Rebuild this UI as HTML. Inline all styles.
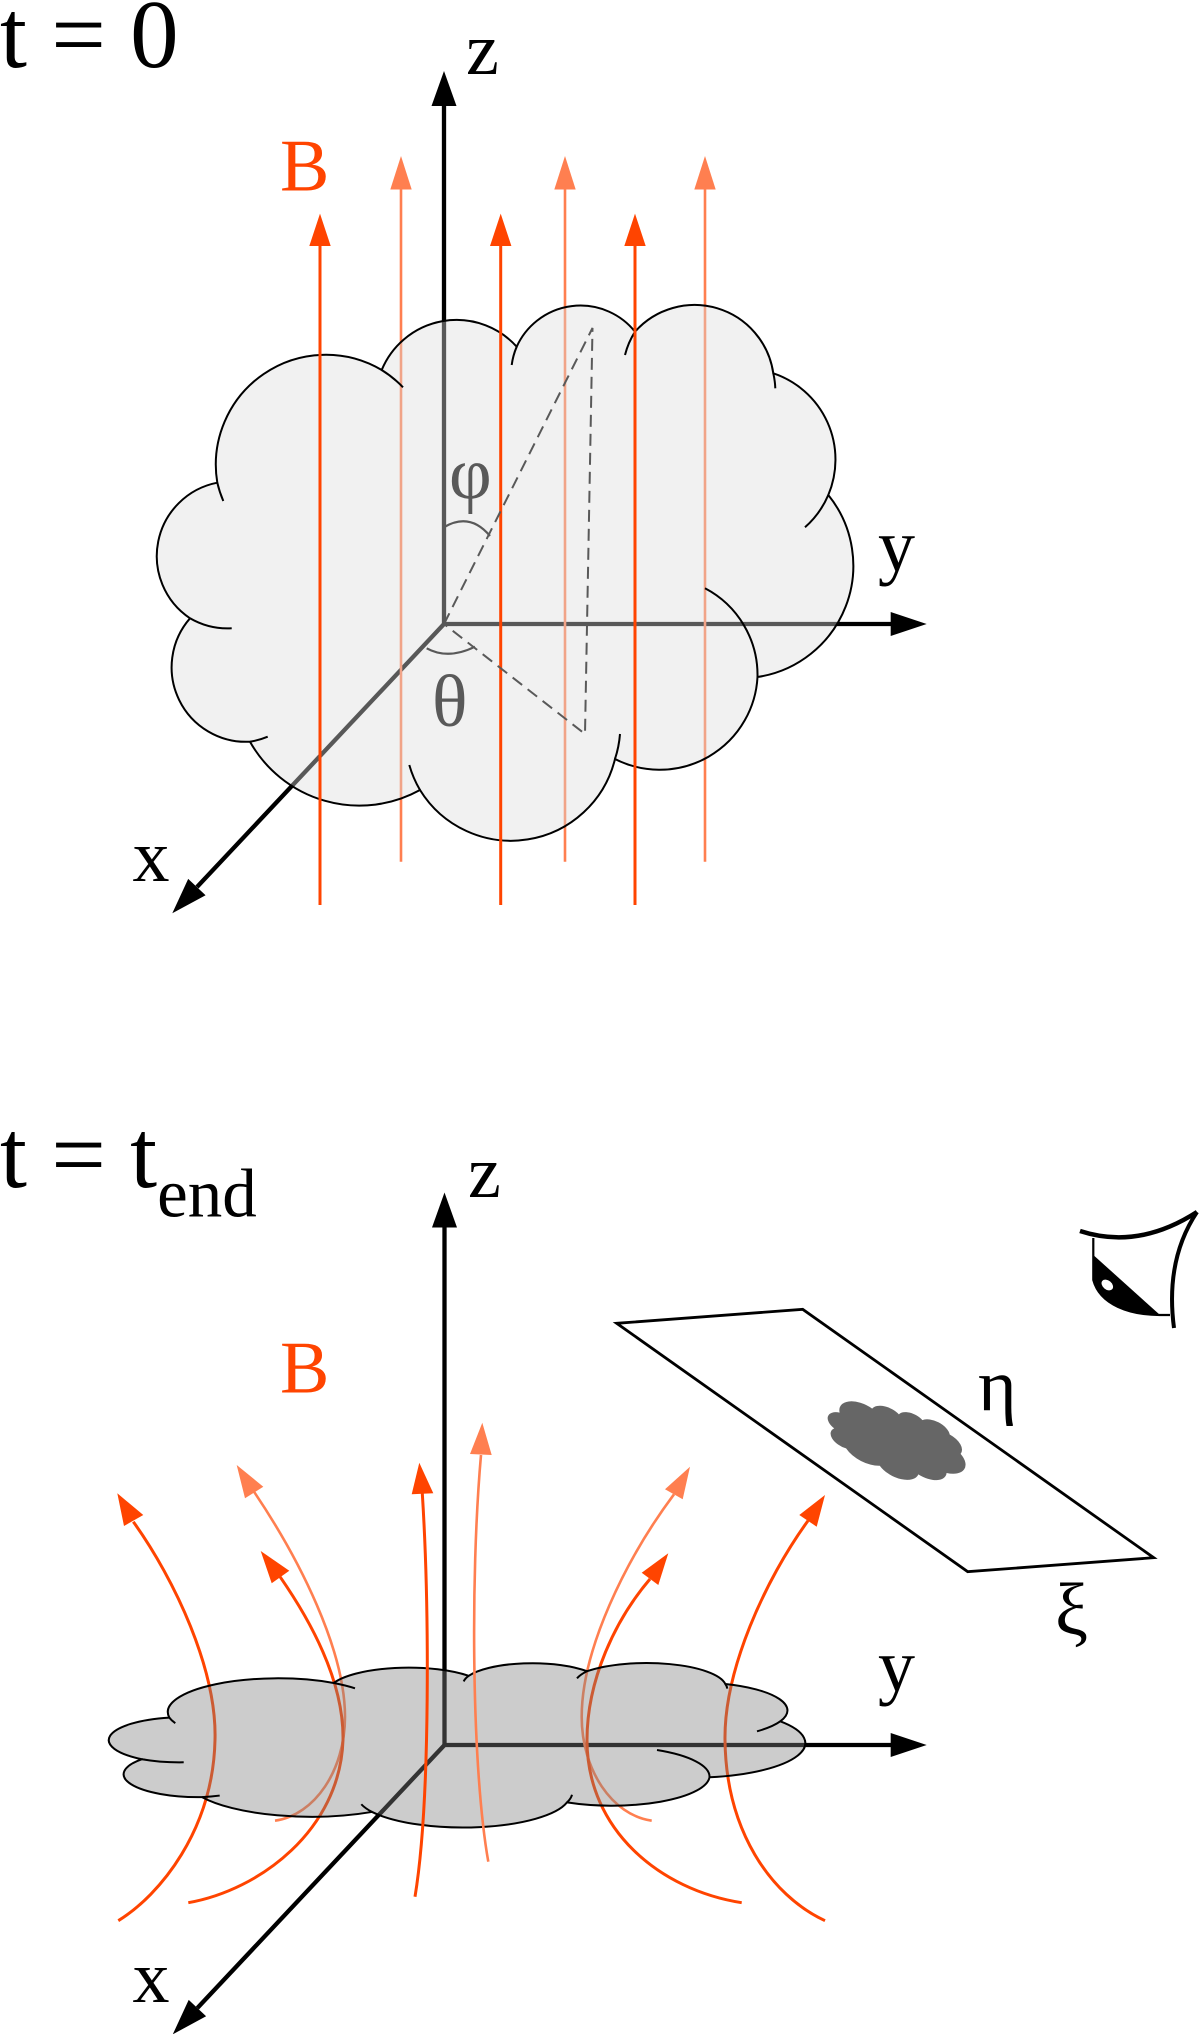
<!DOCTYPE html>
<html>
<head>
<meta charset="utf-8">
<style>
html,body{margin:0;padding:0;background:#ffffff;}
svg{display:block;}
</style>
</head>
<body>
<svg xmlns="http://www.w3.org/2000/svg" width="1200" height="2034" viewBox="0 0 1200 2034" font-family="'Liberation Serif', 'DejaVu Serif', serif">
<rect x="0" y="0" width="1200" height="2034" fill="#ffffff"/>

<!-- ================= TOP (t = 0) ================= -->
<g stroke="#000" stroke-width="4.3" fill="none">
  <line x1="444" y1="624" x2="444" y2="104"/>
  <line x1="444" y1="624" x2="892" y2="624"/>
  <line x1="444" y1="624" x2="197" y2="887"/>
</g>
<g fill="#000">
  <polygon points="444,71 431.5,106 456.5,106"/>
  <polygon points="926.7,624 890.7,612 890.7,636"/>
  <polygon points="172.3,913.3 205.6,895.3 188.2,878.9"/>
</g>

<g stroke="#ff7f50" stroke-width="2.6">
  <line x1="401" y1="861.7" x2="401" y2="188"/>
  <line x1="565" y1="861.7" x2="565" y2="188"/>
  <line x1="705" y1="861.7" x2="705" y2="188"/>
</g>
<g fill="#ff7f50">
  <polygon points="401,156 390.3,189.5 411.7,189.5"/>
  <polygon points="565,156 554.3,189.5 575.7,189.5"/>
  <polygon points="705,156 694.3,189.5 715.7,189.5"/>
</g>

<path d="M217.3,482.7 A110,110 0 0 1 381.7,370 A81,81 0 0 1 516.7,346.7 A70,70 0 0 1 635,331.7 A79.6,79.6 0 0 1 773.3,373.3 A91,91 0 0 1 828.3,495 A112.5,112.5 0 0 1 757.5,677 A98,98 0 0 1 615,759 A107,107 0 0 1 420,790 A125.5,125.5 0 0 1 250,741.7 A74.5,74.5 0 0 1 190,618.3 A74.8,74.8 0 0 1 217.3,482.7 Z"
      fill="#dcdcdc" fill-opacity="0.4" stroke="#000" stroke-width="2"/>
<path d="M223.3,501 A110,110 0 0 1 217.3,482.7 M231.7,628.3 A74.8,74.8 0 0 1 190,618.3 M267.7,736.7 A74.5,74.5 0 0 1 250,741.7 M420,790 A107,107 0 0 1 409.3,765 M620,734 A107,107 0 0 1 615,759 M705,588.3 A98,98 0 0 1 757.5,677 M828.3,495 A91,91 0 0 1 805,527.3 M773.3,373.3 A79.6,79.6 0 0 1 775.3,388.3 M625,355 A79.6,79.6 0 0 1 635,331.7 M511.7,365 A70,70 0 0 1 516.7,346.7 M381.7,370 A110,110 0 0 1 403,387.3"
      fill="none" stroke="#000" stroke-width="2"/>

<g stroke="#ff4400" stroke-width="3">
  <line x1="320" y1="905" x2="320" y2="244"/>
  <line x1="500.7" y1="905" x2="500.7" y2="244"/>
  <line x1="635" y1="905" x2="635" y2="244"/>
</g>
<g fill="#ff4400">
  <polygon points="320,213.6 309.3,246 330.7,246"/>
  <polygon points="500.7,213.6 490,246 511.4,246"/>
  <polygon points="635,213.6 624.3,246 645.7,246"/>
</g>

<path d="M444,624 L592.5,328 L585,734 Z" fill="none" stroke="#595959" stroke-width="2" stroke-dasharray="12 7"/>
<path d="M444.3,527 Q470,512 490,536" fill="none" stroke="#595959" stroke-width="2.2"/>
<path d="M426.7,648.3 Q448,660 475,646.7" fill="none" stroke="#595959" stroke-width="2.2"/>
<text x="449" y="498" font-size="74" fill="#595959">φ</text>
<text x="432" y="726" font-size="74" fill="#595959">θ</text>

<text x="0" y="67" font-size="97" fill="#000">t = 0</text>
<text x="466" y="74" font-size="74" fill="#000">z</text>
<text x="280" y="190.7" font-size="74" fill="#ff4400">B</text>
<text x="878" y="570.5" font-size="74" fill="#000">y</text>
<text x="132.5" y="881" font-size="74" fill="#000">x</text>

<!-- ================= BOTTOM (t = t_end) ================= -->
<g stroke="#000" stroke-width="4.3" fill="none">
  <line x1="444.5" y1="1745" x2="444.5" y2="1225"/>
  <line x1="444.5" y1="1745" x2="892" y2="1745"/>
  <line x1="444.5" y1="1745" x2="197.4" y2="2008"/>
</g>
<g fill="#000">
  <polygon points="444.5,1192.5 432,1227.5 457,1227.5"/>
  <polygon points="926.7,1745 890.7,1733 890.7,1757"/>
  <polygon points="172.8,2034.3 206.1,2016.3 188.7,1999.9"/>
</g>

<g fill="none" stroke-width="3">
  <path d="M118.3,1920.7 C160,1895 213,1830 215,1740 C217,1670 175,1580 133.3,1521.7" stroke="#ff4400"/>
  <path d="M275,1820.7 C315,1815 345,1770 345,1716.7 C345,1650 300,1560 254,1491.7" stroke="#ff7f50" stroke-width="2.6"/>
  <path d="M188.3,1902.7 C260,1890 340,1830 343,1740 C344,1680 310,1620 280,1576.7" stroke="#ff4400"/>
  <path d="M651.7,1820.7 C612,1815 581.7,1770 581.7,1716.7 C581.7,1650 625,1560 674,1494.3" stroke="#ff7f50" stroke-width="2.6"/>
  <path d="M741.7,1902.7 C660,1890 587,1830 587,1740 C587,1680 615,1620 650,1579" stroke="#ff4400"/>
  <path d="M825,1920.7 C770,1895 726,1830 725,1740 C724,1670 765,1580 808,1520.7" stroke="#ff4400"/>
</g>
<polygon points="117.3,1493.3 124,1526 143.3,1515" fill="#ff4400"/>
<polygon points="236.7,1465 245,1498.3 263.3,1486.7" fill="#ff7f50"/>
<polygon points="260.7,1551 271.7,1583.3 289.3,1570.7" fill="#ff4400"/>
<polygon points="690,1466.7 665,1489.3 682.7,1499.3" fill="#ff7f50"/>
<polygon points="668.3,1553.3 641.7,1572.7 658.3,1585" fill="#ff4400"/>
<polygon points="825,1495 799.3,1515 816.7,1526.7" fill="#ff4400"/>

<g transform="matrix(1 0 0 0.307 -48 1569.4)">
  <path d="M217.3,482.7 A110,110 0 0 1 381.7,370 A81,81 0 0 1 516.7,346.7 A70,70 0 0 1 635,331.7 A79.6,79.6 0 0 1 773.3,373.3 A91,91 0 0 1 828.3,495 A112.5,112.5 0 0 1 757.5,677 A98,98 0 0 1 615,759 A107,107 0 0 1 420,790 A125.5,125.5 0 0 1 250,741.7 A74.5,74.5 0 0 1 190,618.3 A74.8,74.8 0 0 1 217.3,482.7 Z"
        fill="#808080" fill-opacity="0.4" stroke="#000" stroke-width="2" vector-effect="non-scaling-stroke"/>
  <path d="M223.3,501 A110,110 0 0 1 217.3,482.7 M231.7,628.3 A74.8,74.8 0 0 1 190,618.3 M267.7,736.7 A74.5,74.5 0 0 1 250,741.7 M420,790 A107,107 0 0 1 409.3,765 M620,734 A107,107 0 0 1 615,759 M705,588.3 A98,98 0 0 1 757.5,677 M828.3,495 A91,91 0 0 1 805,527.3 M773.3,373.3 A79.6,79.6 0 0 1 775.3,388.3 M625,355 A79.6,79.6 0 0 1 635,331.7 M511.7,365 A70,70 0 0 1 516.7,346.7 M381.7,370 A110,110 0 0 1 403,387.3"
        fill="none" stroke="#000" stroke-width="2" vector-effect="non-scaling-stroke"/>
</g>

<path d="M415,1896.7 C431,1800 429,1600 422.3,1493.3" fill="none" stroke="#ff4400" stroke-width="3"/>
<polygon points="419.3,1462.7 411.7,1494.3 433.3,1493.3" fill="#ff4400"/>
<path d="M488.3,1861.7 C472,1770 470,1580 481,1455" fill="none" stroke="#ff7f50" stroke-width="2.6"/>
<polygon points="482.3,1422.7 470,1454 491.7,1455" fill="#ff7f50"/>

<polygon points="616.7,1323.3 802.7,1309.3 1153.7,1557.7 967.7,1571.7" fill="none" stroke="#000" stroke-width="2.8" stroke-linejoin="miter"/>
<g transform="matrix(0.198 0.065 0 0.13 796.6 1335.7)">
  <path d="M217.3,482.7 A110,110 0 0 1 381.7,370 A81,81 0 0 1 516.7,346.7 A70,70 0 0 1 635,331.7 A79.6,79.6 0 0 1 773.3,373.3 A91,91 0 0 1 828.3,495 A112.5,112.5 0 0 1 757.5,677 A98,98 0 0 1 615,759 A107,107 0 0 1 420,790 A125.5,125.5 0 0 1 250,741.7 A74.5,74.5 0 0 1 190,618.3 A74.8,74.8 0 0 1 217.3,482.7 Z" fill="#666666"/>
</g>

<path d="M1080,1231 Q1138,1250 1197,1212" fill="none" stroke="#000" stroke-width="4.5"/>
<path d="M1197,1212 Q1165,1260 1174,1328" fill="none" stroke="#000" stroke-width="4"/>
<path d="M1093.3,1255 L1160,1315 C1130,1315 1100,1305 1093.3,1280 Z" fill="#000"/>
<path d="M1093.3,1238 L1093.3,1280 C1100,1305 1130,1315 1160,1315 L1170,1315" fill="none" stroke="#000" stroke-width="2.2"/>
<ellipse cx="1107.3" cy="1285" rx="6.5" ry="4.5" transform="rotate(40 1107.3 1285)" fill="#fff"/>

<text x="0" y="1187" font-size="97" fill="#000">t = t<tspan font-size="69" y="1216.5">end</tspan></text>
<text x="468" y="1197" font-size="74" fill="#000">z</text>
<text x="280" y="1392.3" font-size="74" fill="#ff4400">B</text>
<text x="878" y="1690.5" font-size="74" fill="#000">y</text>
<text x="132.5" y="2002" font-size="74" fill="#000">x</text>
<text x="978" y="1410" font-size="74" fill="#000">η</text>
<text x="1055" y="1634" font-size="74" fill="#000">ξ</text>
</svg>
</body>
</html>
